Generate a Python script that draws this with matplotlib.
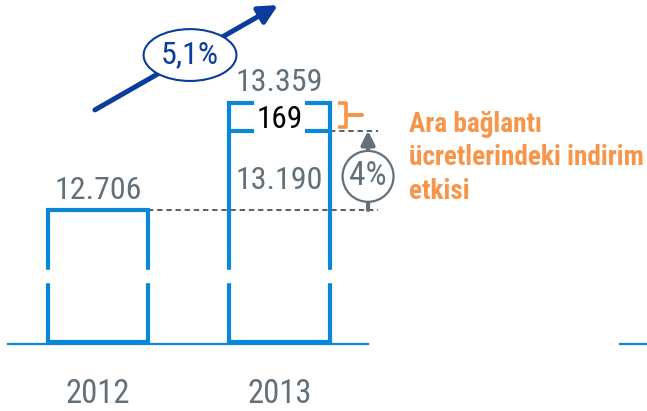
import numpy as np
import matplotlib
matplotlib.use('Agg')
import matplotlib.pyplot as plt
from matplotlib import font_manager

# data
years = ['2012', '2013']
totals = [12706, 13359]
effect = 169           # Ara bağlantı ücretlerindeki indirim etkisi
before_effect = 13190  # 2013 without the effect
growth_lbl = '5,1%'
effect_pct_lbl = '4%'
note = 'Ara bağlantı\nücretlerindeki indirim\netkisi'

base = 11900

# colours
blue = '#0b86d9'
navy = '#0a3c9c'
grey = '#637079'
orange = '#f7964a'

names = set(f.name for f in font_manager.fontManager.ttflist)
fam = 'Roboto'
for n in ['Roboto Condensed', 'Liberation Sans Narrow', 'Open Sans Condensed']:
  if n in names:
    fam = n
    break
plt.rcParams['font.family'] = [fam, 'DejaVu Sans']

fig = plt.figure(figsize=(6.47, 4.11), dpi=100)
ax = fig.add_axes([0, 0, 1, 1])
ax.set_xlim(-0.540, 3.025)
ax.set_ylim(11479, 13988)
ax.axis('off')

# data units per pixel in y
py = (13988 - 11479) / 411.0

x = np.arange(len(years))
w = 0.555
heights = [t - base for t in totals]
ax.bar(x, heights, width=w, bottom=base, fill=False, edgecolor=blue, linewidth=3, zorder=2)

# inner line of the 2013 bar (before effect)
ax.hlines(before_effect, x[1] - w/2, x[1] + w/2, color=blue, lw=3, zorder=2)

# white gap behind the "169" label
ax.add_patch(plt.Rectangle((x[1] - 0.14, before_effect - 30), 0.28, effect + 60,
                           facecolor='white', edgecolor='none', zorder=3))

# axis break gaps in bar edges
ax.axhspan(12267, 12340, color='white', zorder=3)

# baseline
ax.hlines(base - 1.5*py, -0.501, 1.493, color=blue, lw=1.6, zorder=4)
ax.hlines(base - 1.5*py, 2.871, 3.03, color=blue, lw=1.6, zorder=4)

# value labels
ax.text(x[0], totals[0] + 11*py, '12.706', ha='center', va='baseline', fontsize=23, color=grey)
ax.text(x[1], totals[1] + 12*py, '13.359', ha='center', va='baseline', fontsize=23, color=grey)
ax.text(x[1], before_effect + 3*py, str(effect), ha='center', va='baseline', fontsize=22.5,
        color='black', zorder=5)
ax.text(x[1], before_effect - 58*py, '13.190', ha='center', va='baseline', fontsize=23, color=grey)

for xi, yr in zip(x, years):
  ax.text(xi, base - 61*py, yr, ha='center', va='baseline', fontsize=23.5, color=grey)

# dashed reference lines
ax.hlines(totals[0], x[0] + w/2, 1.543, color='#333333', lw=1.1, linestyles=(0, (3.5, 2.5)), zorder=1)
ax.hlines(before_effect, x[1] + w/2, 1.543, color='#333333', lw=1.1, linestyles=(0, (3.5, 2.5)), zorder=1)

# grey arrow with 4% circle
xa = 1.488
ax.annotate('', xy=(xa, before_effect), xytext=(xa, totals[0]),
            arrowprops=dict(arrowstyle='-|>', color=grey, lw=3, mutation_scale=20,
                            shrinkA=0, shrinkB=0), zorder=4)
ax.text(xa, (totals[0] + before_effect) / 2 - 6*py, effect_pct_lbl, ha='center', va='center',
        fontsize=24, color=grey, zorder=6,
        bbox=dict(boxstyle='circle,pad=0.2', facecolor='white', edgecolor=grey, lw=1.6))

# orange bracket
bx0, bx1, bx2 = 1.322, 1.364, 1.455
ymid = (totals[1] + before_effect + 20) / 2
ax.plot([bx0, bx1, bx1, bx2, bx1, bx1, bx0],
        [totals[1], totals[1], ymid, ymid, ymid, before_effect + 20, before_effect + 20],
        color=orange, lw=2.6, solid_joinstyle='round', solid_capstyle='butt', zorder=4)

ax.text(1.714, totals[1] - 8*py, note, ha='left', va='top', fontsize=19.6, fontweight='bold',
        color=orange, linespacing=1.3)

# navy growth arrow
ax.annotate('', xy=(0.992, 13957), xytext=(-0.017, 13317),
            arrowprops=dict(arrowstyle='-|>', color=navy, lw=3.6, mutation_scale=28,
                            shrinkA=0, shrinkB=0), zorder=4)
ax.text(0.507, 13652, growth_lbl, ha='center', va='center', fontsize=23, color=navy, zorder=6,
        bbox=dict(boxstyle='ellipse,pad=0.12', facecolor='white', edgecolor=navy, lw=1.5))

fig.savefig('out.png', dpi=100)
